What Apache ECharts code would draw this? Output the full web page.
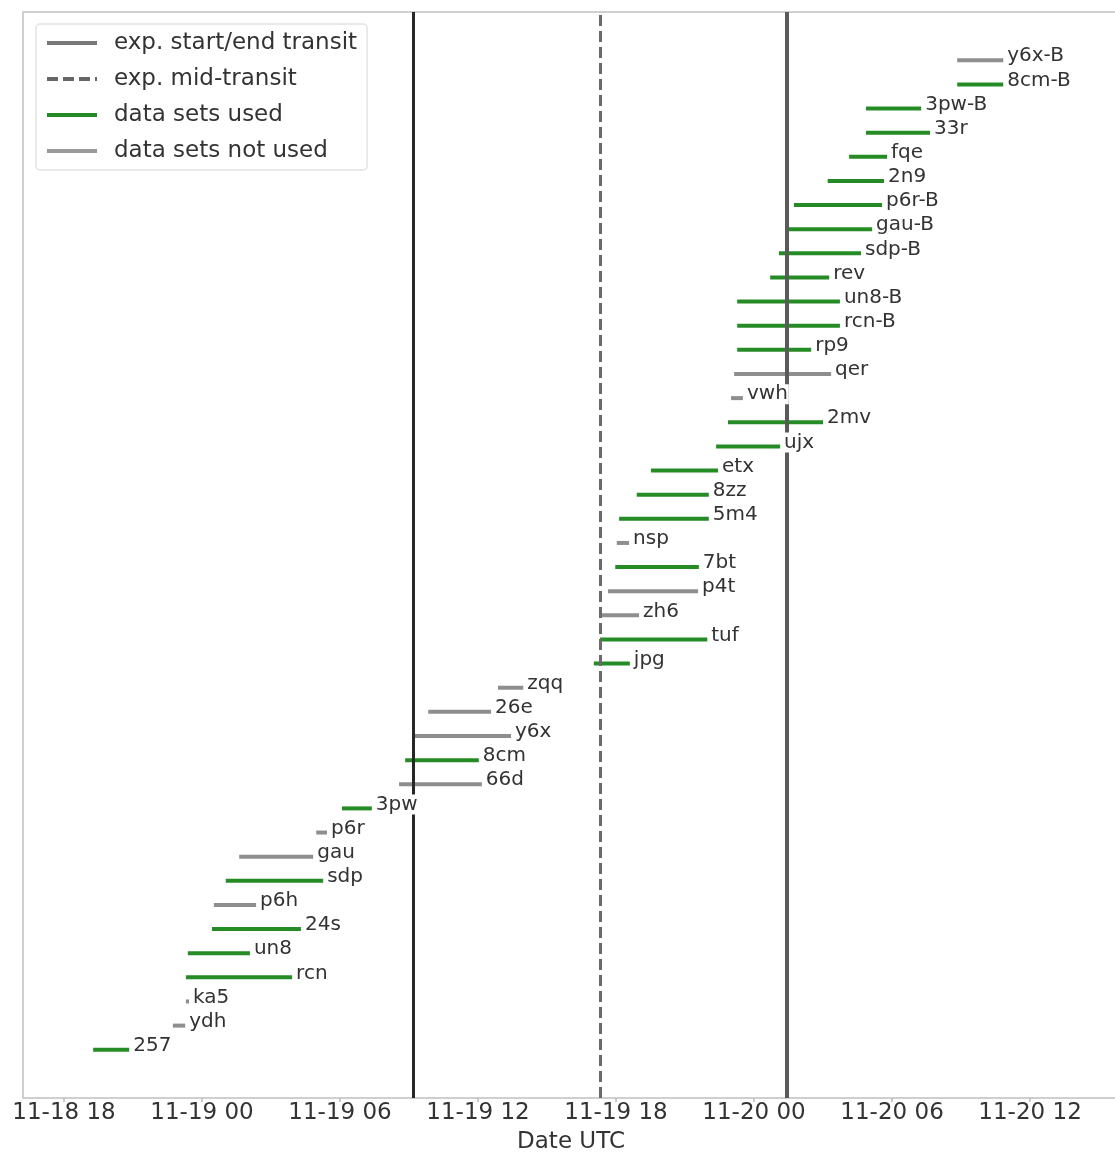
<!DOCTYPE html>
<html>
<head>
<meta charset="utf-8">
<title>Transit data sets</title>
<script src="https://cdn.jsdelivr.net/npm/echarts@6/dist/echarts.min.js"></script>
<style>
  html, body { margin: 0; padding: 0; background: #fff; }
  #chart { width: 1115px; height: 1152px; }
</style>
</head>
<body>
<div id="chart"></div>
<script>
// data sets, listed top to bottom as in the figure (times in UTC, MM-DD HH:mm)
var names = ['y6x-B', '8cm-B', '3pw-B', '33r', 'fqe', '2n9', 'p6r-B', 'gau-B', 'sdp-B', 'rev',
	'un8-B', 'rcn-B', 'rp9', 'qer', 'vwh', '2mv', 'ujx', 'etx', '8zz', '5m4',
	'nsp', '7bt', 'p4t', 'zh6', 'tuf', 'jpg', 'zqq', '26e', 'y6x', '8cm',
	'66d', '3pw', 'p6r', 'gau', 'sdp', 'p6h', '24s', 'un8', 'rcn', 'ka5',
	'ydh', '257'];
var starts = ['11-20 08:50', '11-20 08:50', '11-20 04:52', '11-20 04:52', '11-20 04:08', '11-20 03:12', '11-20 01:44', '11-20 01:26', '11-20 01:05', '11-20 00:42',
	'11-19 23:16', '11-19 23:16', '11-19 23:16', '11-19 23:08', '11-19 23:00', '11-19 22:52', '11-19 22:21', '11-19 19:31', '11-19 18:54', '11-19 18:08',
	'11-19 18:02', '11-19 17:58', '11-19 17:39', '11-19 17:23', '11-19 17:18', '11-19 17:02', '11-19 12:52', '11-19 09:50', '11-19 09:08', '11-19 08:50',
	'11-19 08:34', '11-19 06:05', '11-19 04:58', '11-19 01:37', '11-19 01:02', '11-19 00:31', '11-19 00:26', '11-18 23:23', '11-18 23:18', '11-18 23:18',
	'11-18 22:44', '11-18 19:16'];
var ends = ['11-20 10:50', '11-20 10:50', '11-20 07:16', '11-20 07:39', '11-20 05:47', '11-20 05:39', '11-20 05:34', '11-20 05:08', '11-20 04:39', '11-20 03:16',
	'11-20 03:44', '11-20 03:44', '11-20 02:29', '11-20 03:21', '11-19 23:31', '11-20 03:00', '11-20 01:08', '11-19 22:26', '11-19 22:02', '11-19 22:02',
	'11-19 18:34', '11-19 21:36', '11-19 21:34', '11-19 19:00', '11-19 21:58', '11-19 18:36', '11-19 13:58', '11-19 12:34', '11-19 13:26', '11-19 12:02',
	'11-19 12:10', '11-19 07:23', '11-19 05:26', '11-19 04:50', '11-19 05:16', '11-19 02:21', '11-19 04:18', '11-19 02:05', '11-19 03:55', '11-18 23:26',
	'11-18 23:16', '11-18 20:50'];
var used = [0, 1, 1, 1, 1, 1, 1, 1, 1, 1,
	1, 1, 1, 0, 0, 1, 1, 1, 1, 1,
	0, 1, 0, 0, 1, 1, 0, 0, 0, 1,
	0, 1, 0, 0, 1, 0, 1, 1, 1, 0,
	0, 1];

// expected transit times
var transitEdges = ['11-19 09:10', '11-20 01:26'];
var transitMid = ['11-19 17:18'];

// x axis
var tickTimes = ['11-18 18:00', '11-19 00:00', '11-19 06:00', '11-19 12:00', '11-19 18:00', '11-20 00:00', '11-20 06:00', '11-20 12:00'];
var tickLabels = ['11-18 18', '11-19 00', '11-19 06', '11-19 12', '11-19 18', '11-20 00', '11-20 06', '11-20 12'];
var year = 2019;
var axisMin = '11-18 16:13';
var axisMax = '11-20 15:52';

function toTime(s){
	var p = s.split(/[- :]/);
	return Date.UTC(year, +p[0] - 1, +p[1], +p[2], +p[3]);
}

var GREEN = '#258b25';
var GREY = '#8e8e8e';
var TEXT = '#333';
var FONT = 'DejaVu Sans';

var usedData = [], unusedData = [], labelData = [];
for(var i=0; i<names.length; i++){
	var row = names.length - 1 - i;
	var val = [toTime(starts[i]), toTime(ends[i]), row];
	if(used[i]){
		usedData.push(val);
	}else{
		unusedData.push(val);
	}
	labelData.push([toTime(ends[i]), row]);
}

var tickValues = [];
var tickText = {};
for(var k=0; k<tickTimes.length; k++){
	var t = toTime(tickTimes[k]);
	tickValues.push(t);
	tickText[t] = tickLabels[k];
}

function renderBar(color){
	return function(params, api){
		var s = api.coord([api.value(0), api.value(2)]);
		var e = api.coord([api.value(1), api.value(2)]);
		return {
			type: 'line',
			shape: {x1: s[0], y1: s[1], x2: e[0], y2: e[1]},
			style: {stroke: color, lineWidth: 4}
		};
	};
}

function renderLabel(params, api){
	var e = api.coord([api.value(0), api.value(1)]);
	return {
		type: 'text',
		x: e[0] + 3,
		y: e[1] - 4,
		style: {
			text: names[params.dataIndex],
			fill: TEXT,
			fontSize: 20,
			fontFamily: FONT,
			align: 'left',
			verticalAlign: 'middle',
			backgroundColor: '#fff',
			padding: [0, 1]
		}
	};
}

var chart = echarts.init(document.getElementById('chart'));

var option = {
	animation: false,
	backgroundColor: '#fff',
	textStyle: {fontFamily: FONT},
	grid: {
		left: 23, right: -4, top: 12, bottom: 54,
		show: true,
		borderColor: '#cfcfcf',
		borderWidth: 2,
		outerBoundsMode: 'none'
	},
	legend: {
		orient: 'vertical',
		left: 36,
		top: 24,
		padding: [6, 10, 6, 9],
		itemWidth: 50,
		itemHeight: 14,
		itemGap: 10,
		borderColor: '#e2e2e2',
		borderWidth: 1.5,
		borderRadius: 4,
		backgroundColor: '#fff',
		selectedMode: false,
		itemStyle: {opacity: 0},
		lineStyle: {width: 'inherit'},
		textStyle: {
			fontSize: 23,
			color: TEXT,
			fontFamily: FONT,
			lineHeight: 26,
			padding: [0, 0, 0, 12]
		},
		data: ['exp. start/end transit', 'exp. mid-transit', 'data sets used', 'data sets not used']
	},
	xAxis: {
		type: 'value',
		min: toTime(axisMin),
		max: toTime(axisMax),
		name: 'Date UTC',
		nameLocation: 'middle',
		nameGap: 33,
		nameTextStyle: {fontSize: 23, color: TEXT, fontFamily: FONT},
		axisLine: {show: true, onZero: false, lineStyle: {color: '#cfcfcf', width: 2}},
		axisTick: {show: true, length: 4, customValues: tickValues, lineStyle: {color: '#bbb', width: 1.5}},
		splitLine: {show: false},
		axisLabel: {
			fontSize: 23,
			color: TEXT,
			fontFamily: FONT,
			margin: 4,
			customValues: tickValues,
			formatter: function(v){
				return tickText[v] || '';
			}
		}
	},
	yAxis: {
		type: 'value',
		min: -2,
		max: 43,
		show: false
	},
	series: [
		{
			name: 'exp. start/end transit',
			type: 'line',
			data: [],
			symbol: 'none',
			z: 3,
			lineStyle: {color: '#777', width: 4},
			markLine: {
				silent: true,
				symbol: 'none',
				z: 3,
				label: {show: false},
				data: [
					{xAxis: toTime(transitEdges[0]), lineStyle: {color: '#262626', width: 3, type: 'solid'}},
					{xAxis: toTime(transitEdges[1]), lineStyle: {color: '#5a5a5a', width: 4, type: 'solid'}}
				]
			}
		},
		{
			name: 'exp. mid-transit',
			type: 'line',
			data: [],
			symbol: 'none',
			z: 3,
			lineStyle: {color: '#666', width: 4, type: [11, 5]},
			markLine: {
				silent: true,
				symbol: 'none',
				z: 3,
				label: {show: false},
				data: [
					{xAxis: toTime(transitMid[0]), lineStyle: {color: '#6a6a6a', width: 3, type: [11, 5]}}
				]
			}
		},
		{
			name: 'data sets used',
			type: 'line',
			data: [],
			symbol: 'none',
			lineStyle: {color: GREEN, width: 4}
		},
		{
			name: 'data sets not used',
			type: 'line',
			data: [],
			symbol: 'none',
			lineStyle: {color: '#9a9a9a', width: 4}
		},
		{
			name: 'data sets used',
			type: 'custom',
			renderItem: renderBar(GREEN),
			encode: {x: [0, 1], y: 2},
			data: usedData,
			z: 1
		},
		{
			name: 'data sets not used',
			type: 'custom',
			renderItem: renderBar(GREY),
			encode: {x: [0, 1], y: 2},
			data: unusedData,
			z: 1
		},
		{
			name: 'labels',
			type: 'custom',
			renderItem: renderLabel,
			encode: {x: 0, y: 1},
			data: labelData,
			silent: true,
			z: 5
		}
	]
};

chart.setOption(option);
</script>
</body>
</html>
